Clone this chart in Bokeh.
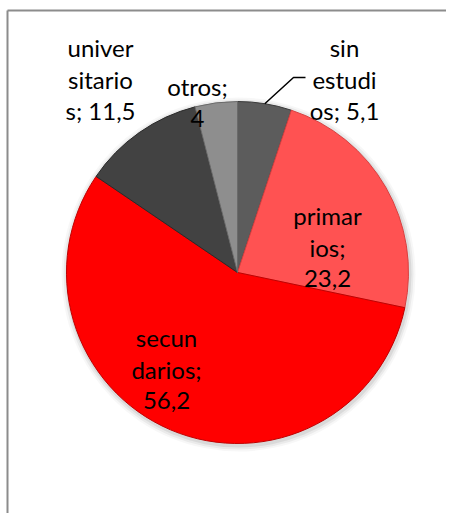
import math
from bokeh.plotting import figure
from bokeh.models import Range1d
from bokeh.core.properties import value
from bokeh.embed import file_html
from bokeh.resources import INLINE

# ---- data ----
categories = ["sin estudios", "primarios", "secundarios", "universitarios", "otros"]
values = [5.1, 23.2, 56.2, 11.5, 4]

# ---- style / layout ----
colors = ["#5c5c5c", "#ff5252", "#ff0000", "#424242", "#8e8e8e"]
edge_colors = ["#3a3a3a", "#d94040", "#c00000", "#2a2a2a", "#6a6a6a"]
wrap_breaks = [[3, 10], [6, 10], [5, 12], [6, 13], [6]]
# label anchor offsets from pie centre in pixels (centre x, first baseline y; y down)
label_offsets = [(107, -225), (90, -57), (-71, 65), (-137, -225), (-40, -186)]
line_step = 31.5

W, H = 446, 513
cx, cy, R = 237, H - 272, 171  # pie centre/radius in plot pixels (y up)

p = figure(width=W, height=H, output_backend="svg", toolbar_location=None,
           x_range=Range1d(0, W), y_range=Range1d(0, H), min_border=0)
p.axis.visible = False
p.grid.visible = False
p.outline_line_color = None
p.background_fill_color = "white"
p.border_fill_color = "white"

# frame lines (chart-area border, right/bottom cut off)
fx, fy = 7, H - 10
p.segment(x0=[fx, fx], y0=[fy, 0], x1=[W, fx], y1=[fy, fy],
          line_color="#8c8c8c", line_width=2)

# soft shadow
for k, a in [(6, 0.03), (4, 0.05), (2, 0.07)]:
    p.circle(x=[cx + 1], y=[cy - 2], radius=R + k, fill_color="black",
             fill_alpha=a, line_color=None)

total = sum(values)
starts, ends, mids = [], [], []
cum = 0.0
for v in values:
    a0 = math.pi / 2 - 2 * math.pi * cum / total
    cum += v
    a1 = math.pi / 2 - 2 * math.pi * cum / total
    starts.append(a0)
    ends.append(a1)
    mids.append((a0 + a1) / 2)

p.wedge(x=[cx] * len(values), y=[cy] * len(values), radius=R,
        start_angle=starts, end_angle=ends, direction="clock",
        fill_color=colors, line_color=edge_colors, line_width=1)

# leader line for the small first slice
m = mids[0]
lx0 = cx + R * math.cos(m)
ly0 = cy + R * math.sin(m)
dx0, dy0 = label_offsets[0]
p.line(x=[lx0, cx + dx0 - 51, cx + dx0 - 39],
       y=[ly0, cy - (dy0 + 30), cy - (dy0 + 30)], line_color="black", line_width=1.5)

# labels
xs, ys, txts = [], [], []
for cat, v, br, (dx, dy) in zip(categories, values, wrap_breaks, label_offsets):
    vs = ("%g" % v).replace(".", ",")
    s = f"{cat}; {vs}"
    idx = [0] + br + [len(s)]
    lines = [s[idx[i]:idx[i + 1]].strip() for i in range(len(idx) - 1)]
    for i, ln in enumerate(lines):
        xs.append(cx + dx)
        ys.append(cy - dy - i * line_step)
        txts.append(ln)

p.text(x=xs, y=ys, text=txts, text_align="center", text_baseline="alphabetic",
       text_font=value("Lato"), text_font_size="24px", text_color="black")

open("out.html", "w").write(file_html(p, INLINE))
